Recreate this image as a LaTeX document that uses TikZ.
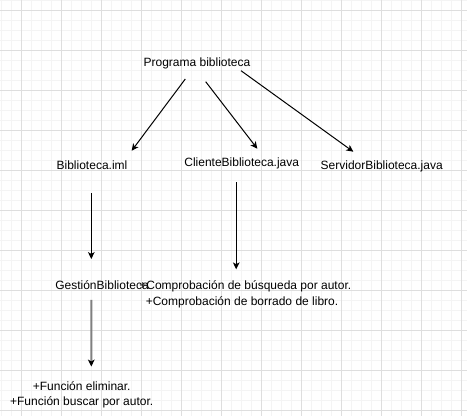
\documentclass[tikz,border=0pt]{standalone}
\usepackage{fontspec}
\setmainfont{Liberation Sans}
\usetikzlibrary{arrows.meta}
\definecolor{gridminor}{HTML}{F4F4F4}
\definecolor{gridmajor}{HTML}{DEDEDE}
\definecolor{greyline}{HTML}{808080}
\tikzset{
  minorline/.style={draw=gridminor, line width=0.75pt},
  majorline/.style={draw=gridmajor, line width=0.75pt},
  lbl/.style={inner sep=0pt, anchor=base, font=\fontsize{9pt}{11pt}\selectfont, text=black},
  arr/.style={draw=black, line width=0.75pt, -{Stealth[length=5.2pt,width=5pt,inset=1.4pt]}},
  greyarr/.style={draw=greyline, line width=1.5pt, -{Stealth[length=5.2pt,width=5pt,inset=1.4pt,color=black]}}
}
\begin{document}
\begin{tikzpicture}[x=0.75pt,y=-0.75pt]
\useasboundingbox (0,0) rectangle (467,416);
\fill[white] (0,0) rectangle (467,416);
% grid
\foreach \x in {1.5,11.5,...,466} \draw[minorline] (\x,0) -- (\x,416);
\foreach \y in {0.5,10.5,...,416} \draw[minorline] (0,\y) -- (467,\y);
\foreach \x in {21.5,61.5,...,466} \draw[majorline] (\x,0) -- (\x,416);
\foreach \y in {10.5,50.5,...,416} \draw[majorline] (0,\y) -- (467,\y);
% labels
\node[lbl] (prog) at (197,66.7) {Programa biblioteca};
\node[lbl] (bib) at (92,170) {Biblioteca.iml};
\node[lbl] (cli) at (241.7,166.7) {ClienteBiblioteca.java};
\node[lbl] (serv) at (381.7,170) {ServidorBiblioteca.java};
\node[lbl] (gest) at (102,290) {GestiónBiblioteca};
\node[lbl] (compA) at (245.3,290) {+Comprobación de búsqueda por autor.};
\node[lbl] (compB) at (242,305.3) {+Comprobación de borrado de libro.};
\node[lbl] (funcA) at (81.7,390) {+Función eliminar.};
\node[lbl] (funcB) at (81.7,405.3) {+Función buscar por autor.};
% connectors
\draw[arr] ([shift={(-11.7,12.3)}]prog.base) -- ([shift={(39.7,-19.3)}]bib.base);
\draw[arr] ([shift={(8.7,15)}]prog.base) -- ([shift={(15.6,-18)}]cli.base);
\draw[arr] ([shift={(44,4)}]prog.base) -- ([shift={(-28.4,-18.3)}]serv.base);
\draw[arr] ([shift={(-0.7,23.3)}]bib.base) -- ([shift={(-10.7,-31)}]gest.base);
\draw[arr] ([shift={(-5.5,15.6)}]cli.base) -- ([shift={(-9.1,-20.7)}]compA.base);
\draw[greyarr] ([shift={(-10.7,10)}]gest.base) -- ([shift={(9.6,-23.5)}]funcA.base);
\end{tikzpicture}
\end{document}
